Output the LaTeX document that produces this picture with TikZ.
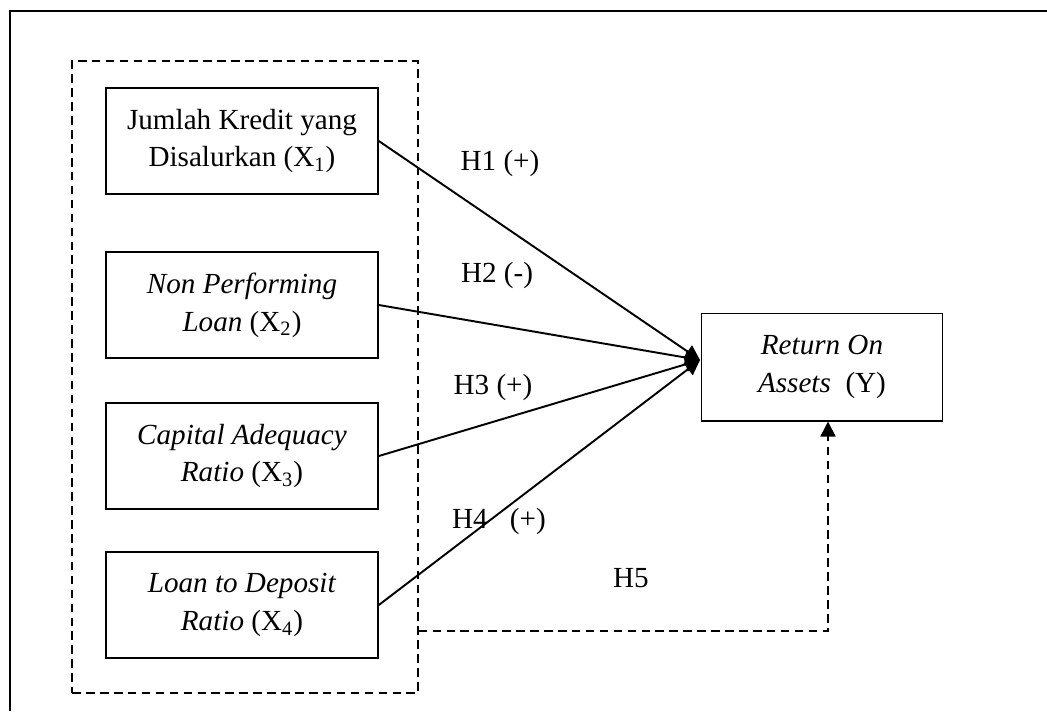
\documentclass[tikz,border=0pt]{standalone}
\usepackage{fontspec}
\setmainfont{Liberation Serif}
\usetikzlibrary{arrows.meta}

\begin{document}
\begin{tikzpicture}[x=0.0164cm, y=-0.0164cm,
		font=\fontsize{13.6}{17.7}\selectfont,
		var/.style={draw, line width=0.8pt, minimum width=4.46cm, minimum height=1.74cm, align=center, inner sep=2pt},
		hyp/.style={line width=0.9pt, -{Triangle[length=7pt,width=7pt]}},
		grp/.style={draw, line width=0.8pt, dash pattern=on 4pt off 2.5pt}]

		\useasboundingbox (0,0) rectangle (1047,711);
		\draw[line width=0.9pt] (10,711) -- (10,11) -- (1047,11);

		\node (group) at (245,377) [grp, minimum width=5.67cm, minimum height=10.37cm] {};

		\node (x1) at (242,141) [var] {Jumlah Kredit yang\\Disalurkan (X\textsubscript{1})};
		\node (x2) at (242,305) [var] {\textit{Non Performing}\\\textit{Loan} (X\textsubscript{2})};
		\node (x3) at (242,456) [var] {\textit{Capital Adequacy}\\\textit{Ratio} (X\textsubscript{3})};
		\node (x4) at (242,605) [var] {\textit{Loan to Deposit}\\\textit{Ratio} (X\textsubscript{4})};

		\node (roa) at (822,367) [var, minimum width=3.95cm, minimum height=1.76cm] {\textit{Return On}\\\textit{Assets}\ \ (Y)};

		\coordinate (meet) at (700,360);
		\foreach \b in {x1,x2,x3,x4} {
		    \draw[hyp] (\b.east) -- (meet);
		}

		\coordinate (bend) at (828,631);
		\draw[grp, -{Triangle[length=7pt,width=7pt]}] (group.east |- bend) -- (bend) -- (bend |- roa.south);

		\node (h1) at (500,163) {H1 (+)};
		\node (h2) at (497,275) {H2 (-)};
		\node (h3) at (493,387) {H3 (+)};
		\node (h4) at (499,521) {H4\hspace{0.76em}(+)};
		\node (h5) at (631,578) {H5};
	\end{tikzpicture}
\end{document}
